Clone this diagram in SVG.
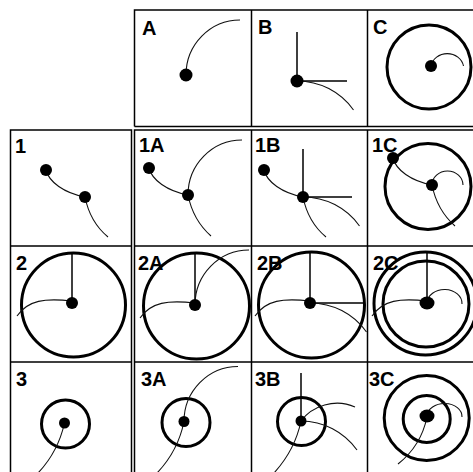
<svg xmlns="http://www.w3.org/2000/svg" width="473" height="472" viewBox="0 0 473 472">
<style>
.grid{fill:none;stroke:#000;stroke-width:1.5}
.ring{fill:none;stroke:#000;stroke-width:3}
.thin{fill:none;stroke:#111;stroke-width:1.1}
.bar{fill:none;stroke:#000;stroke-width:1.5}
.dot{fill:#000}
.lbl{font-family:"Liberation Sans",Arial,sans-serif;font-weight:bold;font-size:20px;fill:#000}
</style>
<rect width="473" height="472" fill="#fff"/>
<g id="grid">
<path class="grid" d="M134.5,126.5 V10 H480 M134.5,126.5 H480 M251.5,10 V126.5 M367.5,10 V126.5"/>
<path class="grid" d="M10.5,480 V130 H131.5 V480 M10.5,246 H131.5 M10.5,362 H131.5"/>
<path class="grid" d="M134.5,480 V130 H480 M134.5,246 H480 M134.5,362 H480 M251.5,130 V480 M367.5,130 V480"/>
</g>
<g id="cell-A">
<text class="lbl" x="142" y="35">A</text>
<path class="thin" d="M186,75 A54,55 0 0 1 240,20"/>
<circle class="dot" cx="186" cy="75" r="6.5"/>
</g>
<g id="cell-B">
<text class="lbl" x="258" y="34">B</text>
<path class="bar" d="M297,81 V32 M297,81 H347"/>
<path class="thin" d="M297,81 A69,69 0 0 1 353.5,110"/>
<circle class="dot" cx="297" cy="81" r="6.5"/>
</g>
<g id="cell-C">
<text class="lbl" x="373" y="34">C</text>
<circle class="ring" cx="429" cy="67" r="42"/>
<path class="thin" d="M431,66 A16.5,15 0 0 1 463.5,66"/>
<circle class="dot" cx="431" cy="66" r="6"/>
</g>
<g id="cell-1">
<text class="lbl" x="15" y="153">1</text>
<path class="thin" d="M46,170 C49,182 64,193 85,197 M85,197 Q90,222 108,237"/>
<circle class="dot" cx="46" cy="170" r="6"/>
<circle class="dot" cx="85" cy="197" r="6"/>
</g>
<g id="cell-1A">
<text class="lbl" x="139" y="152">1A</text>
<path class="thin" d="M149,168 C152,180 167,191 188,195 M188,195 Q193,220 211,236 M188,195 A54,55 0 0 1 242,140"/>
<circle class="dot" cx="149" cy="168" r="6"/>
<circle class="dot" cx="188" cy="195" r="6"/>
</g>
<g id="cell-1B">
<text class="lbl" x="255" y="152">1B</text>
<path class="bar" d="M303,197 V149 M303,197 H352"/>
<path class="thin" d="M264,170 C267,182 282,193 303,197 M303,197 Q308,222 326,237 M303,197 A69,69 0 0 1 359.5,226"/>
<circle class="dot" cx="264" cy="170" r="6"/>
<circle class="dot" cx="303" cy="197" r="6"/>
</g>
<g id="cell-1C">
<text class="lbl" x="372" y="152">1C</text>
<circle class="ring" cx="428" cy="186.5" r="43"/>
<path class="thin" d="M393,158 C396,170 411,181 432,185 M432,185 Q437,210 455,226 M432,185 A15.5,14 0 0 1 463,185"/>
<circle class="dot" cx="393" cy="158" r="6"/>
<circle class="dot" cx="432" cy="185" r="6"/>
</g>
<g id="cell-2">
<text class="lbl" x="16" y="270">2</text>
<circle class="ring" cx="73.5" cy="305" r="52"/>
<path class="bar" d="M72,303 V253"/>
<path class="thin" d="M72,301 C45,298 28,300 17,316"/>
<circle class="dot" cx="72" cy="303" r="6"/>
</g>
<g id="cell-2A">
<text class="lbl" x="138" y="270">2A</text>
<circle class="ring" cx="196.5" cy="306" r="53"/>
<path class="bar" d="M195,305 V253"/>
<path class="thin" d="M195,303 C168,300 151,302 140,318 M195,305 A54,55 0 0 1 249,250"/>
<circle class="dot" cx="195" cy="305" r="6"/>
</g>
<g id="cell-2B">
<text class="lbl" x="257" y="270">2B</text>
<circle class="ring" cx="311.5" cy="305" r="53"/>
<path class="bar" d="M310,303 V253 M310,303 H364"/>
<path class="thin" d="M310,301 C283,298 266,300 255,316 M310,303 A69,69 0 0 1 366.5,332"/>
<circle class="dot" cx="310" cy="303" r="6"/>
</g>
<g id="cell-2C">
<text class="lbl" x="373" y="270">2C</text>
<circle class="ring" cx="425.5" cy="303.5" r="51.5"/>
<circle class="ring" cx="426" cy="304" r="43"/>
<path class="bar" d="M427,303 V252"/>
<path class="thin" d="M427,301 C400,298 383,300 372,316 M427,303 A17.5,14 0 0 1 462,304"/>
<ellipse class="dot" cx="427" cy="303" rx="7.5" ry="6.5"/>
</g>
<g id="cell-3">
<text class="lbl" x="16" y="386">3</text>
<circle class="ring" cx="65.5" cy="424" r="24"/>
<path class="thin" d="M64.5,423 Q58,452 38,473"/>
<circle class="dot" cx="64.5" cy="423" r="5.5"/>
</g>
<g id="cell-3A">
<text class="lbl" x="141" y="386">3A</text>
<circle class="ring" cx="186" cy="422.5" r="24"/>
<path class="thin" d="M184,421.5 A54,55 0 0 1 238,366.5 M184,421.5 Q178,451 157,473"/>
<circle class="dot" cx="184" cy="421.5" r="5.5"/>
</g>
<g id="cell-3B">
<text class="lbl" x="255" y="386">3B</text>
<circle class="ring" cx="301.5" cy="421.5" r="24"/>
<path class="bar" d="M301,421 V373"/>
<path class="thin" d="M301,421 Q295,450 274,473 M301,421 C312,406 335,398 355,407 M301,421 A69,69 0 0 1 357,450"/>
<circle class="dot" cx="301" cy="421" r="5.5"/>
</g>
<g id="cell-3C">
<text class="lbl" x="369" y="386">3C</text>
<circle class="ring" cx="426.7" cy="418" r="42.5"/>
<circle class="ring" cx="426.7" cy="419" r="23.5"/>
<path class="thin" d="M427,416 A17.5,13 0 0 1 462,417 M427,417 Q421,446 398,464"/>
<ellipse class="dot" cx="427" cy="416" rx="7.5" ry="6.5"/>
</g>
</svg>
